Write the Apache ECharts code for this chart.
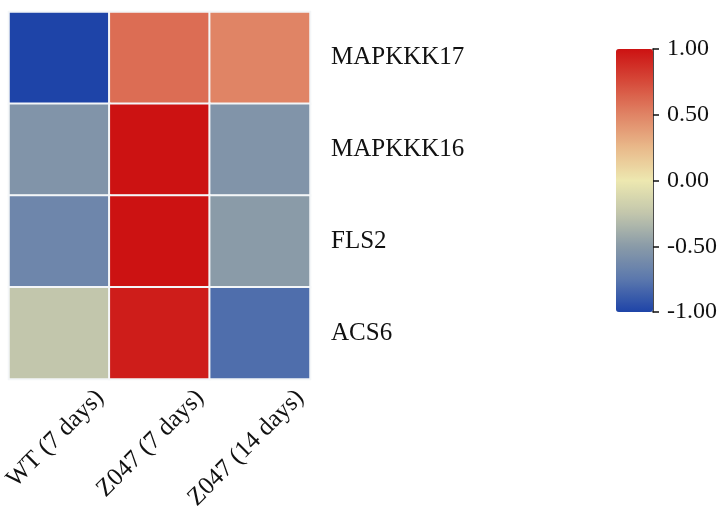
<!DOCTYPE html>
<html>
<head>
<meta charset="utf-8">
<script src="https://cdn.jsdelivr.net/npm/echarts@6/dist/echarts.min.js"></script>
<style>
  html, body { margin: 0; padding: 0; background: #fff; }
  #main { width: 723px; height: 522px; }
</style>
</head>
<body>
<div id="main"></div>
<script>
// samples (columns) and genes (rows, top to bottom)
const samples = ['WT (7 days)', 'Z047 (7 days)', 'Z047 (14 days)'];
const genes = ['MAPKKK17', 'MAPKKK16', 'FLS2', 'ACS6'];
// relative expression, one array per gene, in sample order
const mapkkk17 = [-1.0, 0.6, 0.5];
const mapkkk16 = [-0.55, 1.0, -0.55];
const fls2 = [-0.65, 1.0, -0.5];
const acs6 = [-0.25, 0.95, -0.8];

const rows = [mapkkk17, mapkkk16, fls2, acs6];
let cells = [];
rows.forEach(function (vals, r) {
    vals.forEach(function (v, c) {
        cells.push([c, r, v]);
    });
});

const font = '"Liberation Serif", "Times New Roman", serif';
let myChart = echarts.init(document.getElementById('main'));
let option = {
    backgroundColor: '#fff',
    animation: false,
    grid: [
        { left: 9, top: 12, width: 301, height: 367 },
        // same size, shifted right: only carries the rotated sample labels
        { left: 49, top: 12, width: 301, height: 367 },
        // colour bar axis
        { left: 616, top: 49, width: 37, height: 263 }
    ],
    xAxis: [
        { type: 'category', gridIndex: 0, data: samples, axisLine: { show: false },
          axisTick: { show: false }, axisLabel: { show: false }, splitLine: { show: false } },
        { type: 'category', gridIndex: 1, data: samples, axisLine: { show: false },
          axisTick: { show: false },
          axisLabel: { rotate: 45, margin: 15, fontFamily: font, fontSize: 25, color: '#111' } },
        { type: 'value', gridIndex: 2, show: false, min: 0, max: 1 }
    ],
    yAxis: [
        { type: 'category', gridIndex: 0, data: genes, inverse: true, position: 'right',
          axisLine: { show: false }, axisTick: { show: false },
          axisLabel: { margin: 21, fontFamily: font, fontSize: 25, color: '#111' } },
        { type: 'category', gridIndex: 1, data: genes, show: false },
        { type: 'value', gridIndex: 2, position: 'right', min: -1, max: 1, interval: 0.5,
          axisLine: { show: true, onZero: false, lineStyle: { color: '#111', width: 1.5 } },
          axisTick: { show: true, length: 6, lineStyle: { color: '#111', width: 1.5 } },
          splitLine: { show: false },
          axisLabel: { margin: 14, fontFamily: font, fontSize: 24, color: '#111',
                       formatter: function (v) { return v.toFixed(2); } } }
    ],
    visualMap: {
        type: 'continuous',
        min: -1,
        max: 1,
        seriesIndex: 0,
        calculable: false,
        showLabel: false,
        text: null,
        orient: 'vertical',
        left: 616,
        top: 49,
        padding: 0,
        itemWidth: 37,
        itemHeight: 263,
        inRange: {
            color: ['#1e44a8', '#5b78ad', '#8a9ba8', '#c2c6ac', '#ede8b0',
                    '#e9b98a', '#e08465', '#d64a3a', '#cc1212']
        }
    },
    series: [
        {
            type: 'heatmap',
            xAxisIndex: 0,
            yAxisIndex: 0,
            data: cells,
            itemStyle: { borderColor: '#f4f6f8', borderWidth: 2 }
        }
    ]
};
myChart.setOption(option);
</script>
</body>
</html>
